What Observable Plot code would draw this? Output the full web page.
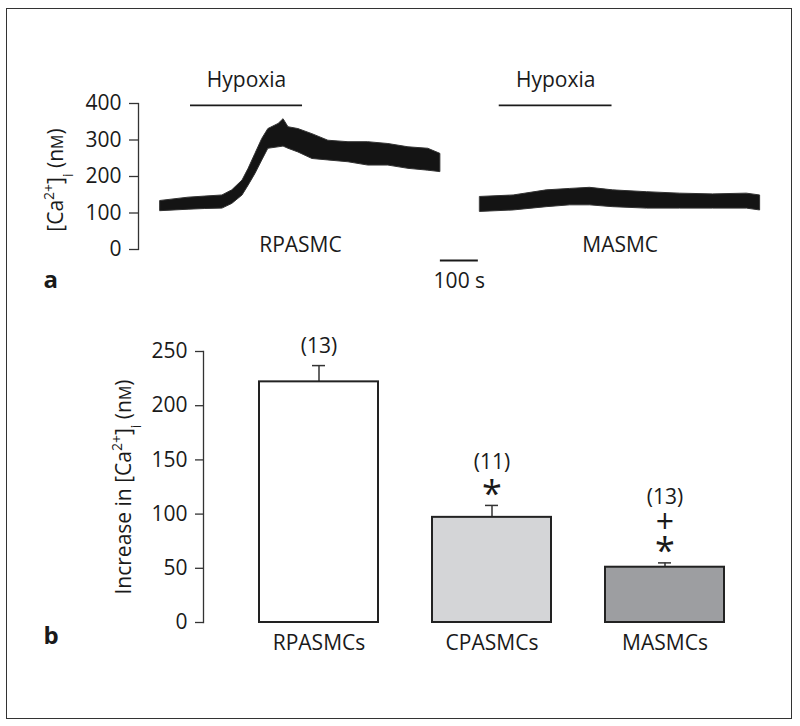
<!DOCTYPE html>
<html><head><meta charset="utf-8">
<script src="https://cdn.jsdelivr.net/npm/d3@7"></script>
<script src="https://cdn.jsdelivr.net/npm/@observablehq/plot@0.6"></script>
<style>
body{margin:0;background:#fff;}
#wrap{position:relative;width:800px;height:726px;font-family:"Open Sans",sans-serif;}
#border{position:absolute;left:6px;top:8px;width:786px;height:711px;border:1.5px solid #333;box-sizing:border-box;}
#pa{position:absolute;left:0;top:0;}
#pb{position:absolute;left:0;top:300px;}
</style></head><body>
<div id="wrap"><div id="border"></div><div id="pa"></div><div id="pb"></div></div>
<script>
// ---------- Panel a: [Ca2+]i traces (time in s, band low/high in nM) ----------
const rpTime = [0, 74, 118, 163, 189, 216, 232, 250, 268, 284, 311, 324, 337, 363, 400, 442, 495, 547, 600, 653, 705, 737];
const rpLow  = [105, 109, 111, 112, 125, 148, 175, 207, 244, 276, 280, 282, 276, 266, 248, 244, 239, 230, 230, 221, 216, 212];
const rpHigh = [133, 142, 145, 148, 162, 189, 221, 262, 303, 330, 344, 357, 335, 330, 316, 298, 294, 294, 289, 280, 276, 262];

const maTime = [0, 88, 175, 237, 289, 350, 439, 526, 613, 702, 737];
const maLow  = [103, 107, 116, 121, 121, 116, 112, 112, 112, 112, 107];
const maHigh = [144, 148, 162, 166, 169, 162, 157, 153, 151, 153, 148];

const traceNames = ["RPASMC", "MASMC"];
const traceStart = [0, 842];            // s, start of each trace on the shared time line
const hypoxiaStart = [79, 50];          // s, relative to trace start
const hypoxiaEnd = [374, 347];
const scaleBarSeconds = 100;
const yTicksA = [0, 100, 200, 300, 400];

// ---------- Panel b: increase in [Ca2+]i ----------
const categories = ["RPASMCs", "CPASMCs", "MASMCs"];
const increase = [222, 97, 51];
const sem = [15, 11, 4];
const nCells = [13, 11, 13];
const markers = [[], ["*"], ["*", "+"]];
const barFills = ["#ffffff", "#d4d5d7", "#9d9ea1"];
const yTicksB = [0, 50, 100, 150, 200, 250];

// ---------- build tables ----------
const rpRows = rpTime.map((t, i) => ({t: traceStart[0] + t, lo: rpLow[i], hi: rpHigh[i]}));
const maRows = maTime.map((t, i) => ({t: traceStart[1] + t, lo: maLow[i], hi: maHigh[i]}));
const hypoxiaRows = traceNames.map((n, i) => ({start: traceStart[i] + hypoxiaStart[i], end: traceStart[i] + hypoxiaEnd[i]}));
const traceEnds = [traceStart[0] + rpTime[rpTime.length - 1], traceStart[1] + maTime[maTime.length - 1]];
const labelRows = traceNames.map((n, i) => ({name: n, t: (traceStart[i] + traceEnds[i]) / 2}));
const scaleRow = [{x1: traceEnds[0], x2: traceEnds[0] + scaleBarSeconds, label: `${scaleBarSeconds} s`}];

const barRows = categories.map((c, i) => ({cat: c, v: increase[i], top: increase[i] + sem[i], n: `(${nCells[i]})`, k: markers[i].length}));
const markerRows = categories.flatMap((c, i) => markers[i].map((m, j) => ({cat: c, top: increase[i] + sem[i], m, j})));

const FONT = "Open Sans, sans-serif";
const ink = "#1a1a1a";
const STACK = 23; // px between stacked annotations

// n-labels and significance markers, one text mark per stacking level (dx/dy are constants)
const nMarks = [0, 1, 2].map(k =>
  Plot.text(barRows.filter(d => d.k === k), {x: "cat", y: "top", text: "n", dy: -(13 + STACK * k), lineAnchor: "bottom"}));
const starMarks = [0, 1].map(j =>
  Plot.text(markerRows.filter(d => d.m === "*" && d.j === j), {x: "cat", y: "top", text: "m", dy: -(11 + STACK * j), lineAnchor: "middle", fontSize: 36}));
const plusMarks = [0, 1].map(j =>
  Plot.text(markerRows.filter(d => d.m === "+" && d.j === j), {x: "cat", y: "top", text: "m", dy: -(17 + STACK * j), lineAnchor: "middle", fontSize: 32}));

const plotA = Plot.plot({
  width: 800, height: 300,
  marginLeft: 138, marginRight: 40, marginTop: 103, marginBottom: 51,
  style: {fontFamily: FONT, fontSize: "21px", color: ink, background: "transparent"},
  x: {domain: [0, 1580], insetLeft: 22, axis: null},
  y: {domain: [0, 400], axis: null},
  marks: [
    Plot.frame({anchor: "left", stroke: "#333", strokeWidth: 1.3}),
    Plot.axisY({ticks: yTicksA, tickSize: 9, tickPadding: 8, label: null, stroke: "#333", strokeWidth: 1.3}),
    Plot.areaY(rpRows, {x: "t", y1: "lo", y2: "hi", fill: "#141414", stroke: "#333", strokeWidth: 1}),
    Plot.areaY(maRows, {x: "t", y1: "lo", y2: "hi", fill: "#141414", stroke: "#333", strokeWidth: 1}),
    Plot.ruleY(hypoxiaRows, {x1: "start", x2: "end", y: () => 395, stroke: ink, strokeWidth: 1.8}),
    Plot.text(hypoxiaRows, {x: d => (d.start + d.end) / 2, y: () => 395, text: () => "Hypoxia", dy: -18, lineAnchor: "bottom"}),
    Plot.text(labelRows, {x: "t", y: () => 0, text: "name", dy: 2, lineAnchor: "bottom"}),
    Plot.ruleY(scaleRow, {x1: "x1", x2: "x2", y: () => 0, dy: 11, stroke: ink, strokeWidth: 1.8}),
    Plot.text(scaleRow, {x: d => (d.x1 + d.x2) / 2, y: () => 0, text: "label", dy: 38, lineAnchor: "bottom"}),
    Plot.text(["a"], {frameAnchor: "bottom-left", dx: -95, dy: 38, textAnchor: "start", lineAnchor: "bottom", fontWeight: "bold", fontSize: 24})
  ]
});
document.getElementById("pa").append(plotA);

const plotB = Plot.plot({
  width: 800, height: 426,
  marginLeft: 203, marginRight: 20, marginTop: 51, marginBottom: 104,
  style: {fontFamily: FONT, fontSize: "21px", color: ink, background: "transparent"},
  x: {domain: categories, paddingInner: 0.31, paddingOuter: 0.317, axis: null},
  y: {domain: [0, 250], axis: null},
  color: {domain: categories, range: barFills},
  marks: [
    Plot.frame({anchor: "left", stroke: "#333", strokeWidth: 1.3}),
    Plot.axisY({ticks: yTicksB, tickSize: 8, tickPadding: 8, label: null, stroke: "#333", strokeWidth: 1.3}),
    Plot.ruleX(barRows, {x: "cat", y1: "v", y2: "top", stroke: "#333", strokeWidth: 1.5}),
    Plot.tickY(barRows, {x: "cat", y: "top", insetLeft: 53, insetRight: 53, stroke: "#333", strokeWidth: 1.5}),
    Plot.barY(barRows, {x: "cat", y: "v", fill: "cat", stroke: "#222", strokeWidth: 2}),
    ...nMarks, ...starMarks, ...plusMarks,
    Plot.axisX({tickSize: 0, tickPadding: 13, label: null}),
    Plot.text(["b"], {frameAnchor: "bottom-left", dx: -160, dy: 21, textAnchor: "start", lineAnchor: "bottom", fontWeight: "bold", fontSize: 24})
  ]
});
document.getElementById("pb").append(plotB);

// rotated y-axis titles with super/subscripts
function yTitle(svg, x, y, prefix) {
  const t = d3.select(svg).append("text")
    .attr("transform", `translate(${x},${y}) rotate(-90)`)
    .attr("text-anchor", "middle")
    .attr("font-family", FONT).attr("font-size", 21).attr("fill", ink);
  t.append("tspan").text(prefix + "[Ca");
  t.append("tspan").attr("baseline-shift", "super").attr("font-size", 14).text("2+");
  t.append("tspan").text("]");
  t.append("tspan").attr("baseline-shift", "sub").attr("font-size", 14).text("i");
  t.append("tspan").text(" (n");
  t.append("tspan").attr("font-size", 16).text("M");
  t.append("tspan").text(")");
}
yTitle(plotA, 63, 180, "");
yTitle(plotB, 131, 187, "Increase in ");
</script>
</body></html>
